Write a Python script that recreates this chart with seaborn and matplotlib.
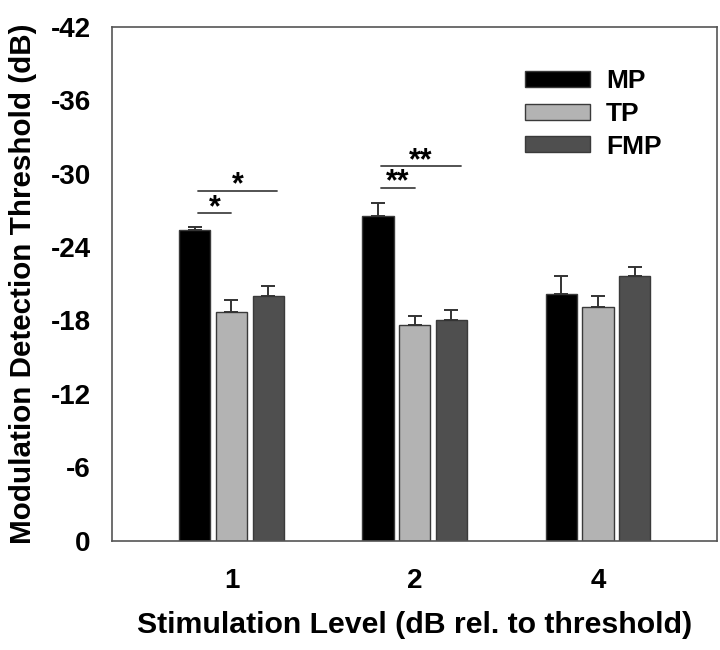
import numpy as np
import pandas as pd
import matplotlib
matplotlib.use("Agg")
import matplotlib.pyplot as plt
import seaborn as sns

# data (dB, negative = better)
levels = ["1", "2", "4"]
conditions = ["MP", "TP", "FMP"]
mp = [-25.4, -26.5, -20.2]
tp = [-18.7, -17.6, -19.1]
fmp = [-20.0, -18.0, -21.6]
mp_err = [0.27, 1.1, 1.45]
tp_err = [1.0, 0.8, 0.87]
fmp_err = [0.8, 0.87, 0.73]

# significance brackets: (level, from, to, y, label)
sig = [
    ("1", "MP", "TP", -26.75, "*"),
    ("1", "MP", "FMP", -28.6, "*"),
    ("2", "MP", "TP", -28.85, "**"),
    ("2", "MP", "FMP", -30.6, "**"),
]

colors = {"MP": "#000000", "TP": "#b3b3b3", "FMP": "#4f4f4f"}

df = pd.DataFrame({
    "level": levels * 3,
    "cond": ["MP"] * 3 + ["TP"] * 3 + ["FMP"] * 3,
    "value": mp + tp + fmp,
    "err": mp_err + tp_err + fmp_err,
})

sns.set_style("white")
plt.rcParams["font.family"] = ["Liberation Sans", "DejaVu Sans"]
plt.rcParams["font.weight"] = "bold"
plt.rcParams["axes.unicode_minus"] = False
plt.rcParams["text.color"] = "black"
plt.rcParams["axes.labelcolor"] = "black"
plt.rcParams["xtick.labelcolor"] = "black"
plt.rcParams["ytick.labelcolor"] = "black"

fig = plt.figure(figsize=(7.2, 6.5), dpi=100)
ax = fig.add_axes([0.156, 0.168, 0.84, 0.791])

sns.barplot(data=df, x="level", y="value", hue="cond", order=levels,
            hue_order=conditions, palette=colors, width=0.6, gap=0.15,
            edgecolor="#3a3a3a", linewidth=1.0, errorbar=None, ax=ax,
            legend=True)

# error bars (one-sided, towards more negative)
centers = {}
for cont, cond in zip(ax.containers, conditions):
    sub = df[df["cond"] == cond].set_index("level").loc[levels]
    for bar, lev, err in zip(cont, levels, sub["err"]):
        x = bar.get_x() + bar.get_width() / 2
        y = bar.get_height()
        centers[(lev, cond)] = x
        ax.errorbar(x, y, yerr=[[err], [0]], fmt="none", ecolor="#333333",
                    elinewidth=1.4, capsize=5, capthick=1.4, zorder=3)

for lev, a, b, y, lab in sig:
    x0 = centers[(lev, a)] + 0.015
    x1 = centers[(lev, b)] + (0.05 if b == "FMP" else 0)
    ax.plot([x0, x1], [y, y], color="#444444", lw=1.3)
    ax.text((x0 + x1) / 2, y + 0.25, lab, ha="center", va="baseline",
            fontsize=22, fontweight="bold")

ax.set_ylim(0, -42)
ax.set_yticks(np.arange(0, -43, -6))
ax.set_xlim(-0.65, 2.65)

for s in ax.spines.values():
    s.set_color("#555555")
    s.set_linewidth(1.2)

ax.tick_params(axis="both", which="both", direction="out", length=4.5,
               width=1.0, color="#555555", labelsize=20)
ax.tick_params(axis="x", pad=15)
ax.tick_params(axis="y", pad=11)
for lab in ax.get_xticklabels() + ax.get_yticklabels():
    lab.set_fontweight("bold")

ax.set_xlabel("Stimulation Level (dB rel. to threshold)", fontsize=21.8,
              fontweight="bold", labelpad=12)
ax.set_ylabel("Modulation Detection Threshold (dB)", fontsize=21.3,
              fontweight="bold", labelpad=10)

ax.legend(title=None, loc="upper left", bbox_to_anchor=(0.683, 0.917),
          frameon=False, handlelength=2.45, handleheight=0.55,
          handletextpad=0.6, labelspacing=0.33, borderpad=0, borderaxespad=0,
          prop={"weight": "bold", "size": 19})

fig.savefig("out.png", dpi=100)
